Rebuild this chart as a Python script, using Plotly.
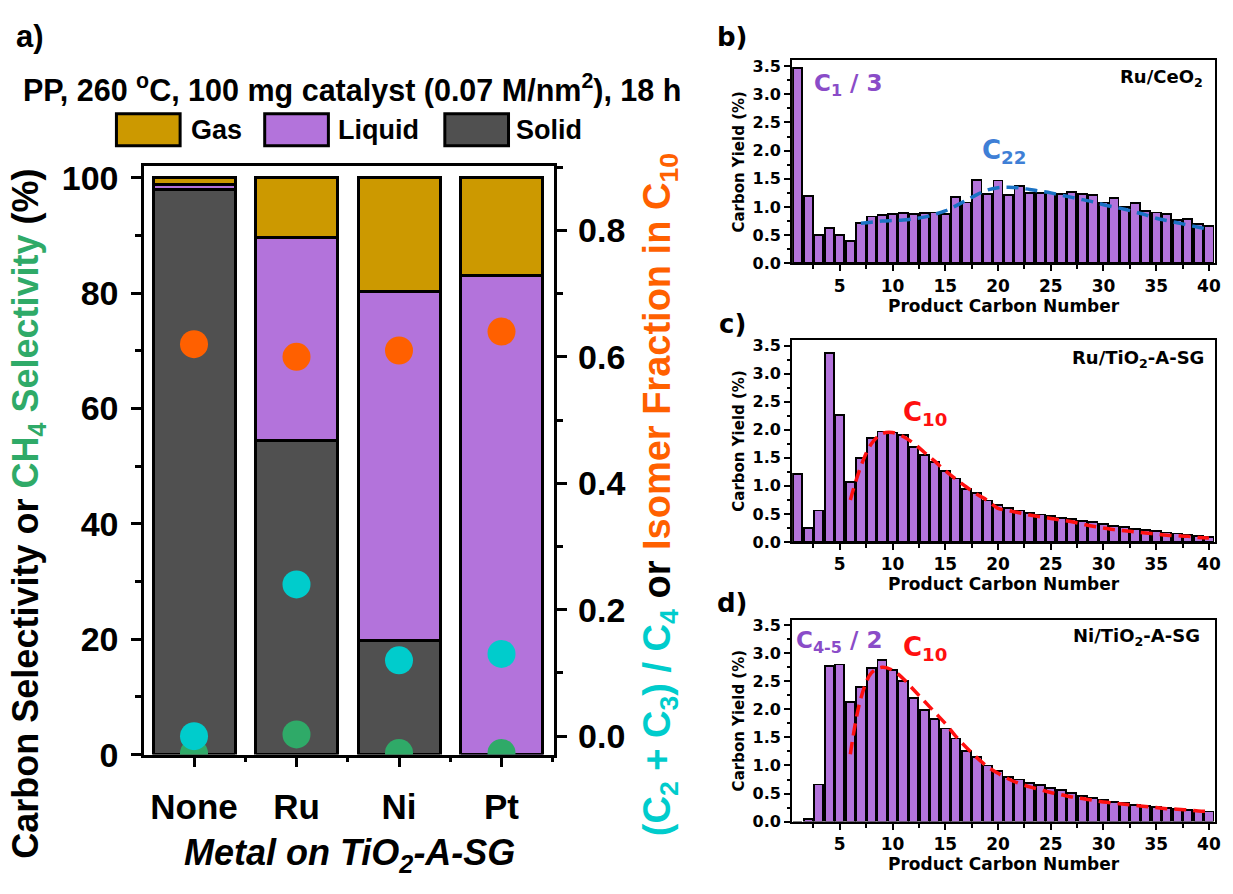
import plotly.graph_objects as go

# ---------------- data ----------------
metals = ["None", "Ru", "Ni", "Pt"]
solid = [97.9, 54.5, 19.8, 0.0]
liquid = [1.0, 35.2, 60.4, 83.0]
gas = [1.1, 10.3, 19.8, 17.0]
ch4_selectivity = [0.2, 3.5, 0.3, 0.3]
c23_over_c4 = [0.0, 0.24, 0.12, 0.13]
isomer_fraction = [0.62, 0.60, 0.61, 0.64]

carbon_number = list(range(1, 41))
ru_ceo2 = [3.47, 1.20, 0.50, 0.62, 0.50, 0.40, 0.72, 0.83, 0.86, 0.87,
           0.89, 0.87, 0.89, 0.90, 0.88, 1.17, 1.08, 1.48, 1.23, 1.47,
           1.21, 1.37, 1.25, 1.25, 1.24, 1.23, 1.26, 1.23, 1.21, 1.08,
           1.16, 1.00, 1.07, 0.93, 0.90, 0.88, 0.77, 0.79, 0.70, 0.66]
ru_tio2 = [1.21, 0.25, 0.56, 3.37, 2.27, 1.07, 1.49, 1.85, 1.97, 1.95,
           1.91, 1.70, 1.55, 1.42, 1.26, 1.13, 0.95, 0.87, 0.74, 0.66,
           0.60, 0.56, 0.52, 0.49, 0.46, 0.43, 0.41, 0.37, 0.35, 0.32,
           0.29, 0.26, 0.23, 0.21, 0.19, 0.17, 0.15, 0.13, 0.11, 0.09]
ni_tio2 = [0.00, 0.05, 0.66, 2.78, 2.80, 2.13, 2.40, 2.74, 2.88, 2.70,
           2.50, 2.20, 1.99, 1.83, 1.66, 1.48, 1.26, 1.15, 1.00, 0.90,
           0.80, 0.75, 0.69, 0.65, 0.60, 0.56, 0.51, 0.45, 0.42, 0.38,
           0.35, 0.33, 0.30, 0.28, 0.26, 0.24, 0.22, 0.21, 0.19, 0.18]

fit_b_x = list(range(7, 41))
fit_b_y = [0.71, 0.73, 0.75, 0.76, 0.77, 0.79, 0.82, 0.87, 0.93, 1.02,
           1.12, 1.22, 1.30, 1.34, 1.35, 1.34, 1.31, 1.28, 1.25, 1.21,
           1.17, 1.13, 1.09, 1.04, 1.00, 0.96, 0.91, 0.86, 0.80, 0.76,
           0.72, 0.68, 0.64, 0.60]
fit_c_x = list(range(6, 41))
fit_c_y = [0.75, 1.35, 1.75, 1.93, 1.95, 1.88, 1.76, 1.60, 1.44, 1.27,
           1.12, 0.98, 0.85, 0.74, 0.60, 0.56, 0.52, 0.48, 0.45, 0.42,
           0.39, 0.36, 0.32, 0.28, 0.25, 0.22, 0.20, 0.18, 0.16, 0.14,
           0.12, 0.11, 0.10, 0.08, 0.07]
fit_d_x = list(range(6, 41))
fit_d_y = [1.20, 2.20, 2.65, 2.75, 2.70, 2.55, 2.35, 2.15, 1.95, 1.75,
           1.52, 1.32, 1.14, 0.98, 0.86, 0.76, 0.68, 0.62, 0.57, 0.52,
           0.48, 0.44, 0.41, 0.38, 0.35, 0.33, 0.31, 0.29, 0.27, 0.25,
           0.23, 0.22, 0.21, 0.19, 0.18]

# ---------------- styles ----------------
GOLD = "#CC9900"
PURPLE = "#B373DB"
DARK = "#505050"
ORANGE = "#FF6000"
CYAN = "#00CCCC"
GREEN = "#2FAA68"
BLUE = "#1A72C4"
RED = "#FF1010"
TXT_PURPLE = "#8A4CC8"

W, H = 1233, 894
ARIAL = "Liberation Sans, Arial, sans-serif"
WIDE = "DejaVu Sans, sans-serif"

def px(x):
    return x / W

def py(y):
    return 1 - y / H

fig = go.Figure()

xpos = list(range(len(metals)))

for name, vals, col in [("Solid", solid, DARK), ("Liquid", liquid, PURPLE), ("Gas", gas, GOLD)]:
    fig.add_trace(go.Bar(x=xpos, y=vals, name=name, width=0.8,
                         marker=dict(color=col, line=dict(color="black", width=3)),
                         xaxis="x", yaxis="y", showlegend=False))

fig.add_trace(go.Scatter(x=xpos, y=ch4_selectivity, mode="markers",
                         marker=dict(color=GREEN, size=28), xaxis="x", yaxis="y",
                         showlegend=False, name="CH4 Selectivity"))
fig.add_trace(go.Scatter(x=xpos, y=isomer_fraction, mode="markers",
                         marker=dict(color=ORANGE, size=28), xaxis="x", yaxis="y2",
                         showlegend=False, name="Isomer Fraction in C10"))
fig.add_trace(go.Scatter(x=xpos, y=c23_over_c4, mode="markers",
                         marker=dict(color=CYAN, size=28), xaxis="x", yaxis="y2",
                         showlegend=False, name="(C2+C3)/C4"))

# right panels
panels = [("x3", "y3", ru_ceo2, fit_b_x, fit_b_y, BLUE),
          ("x4", "y4", ru_tio2, fit_c_x, fit_c_y, RED),
          ("x5", "y5", ni_tio2, fit_d_x, fit_d_y, RED)]
for xa, ya, vals, fx, fy, lc in panels:
    fig.add_trace(go.Bar(x=carbon_number, y=vals, width=0.86,
                         marker=dict(color=PURPLE, line=dict(color="black", width=1.8)),
                         xaxis=xa, yaxis=ya, showlegend=False))
    fig.add_trace(go.Scatter(x=fx, y=fy, mode="lines",
                             line=dict(color=lc, width=3.5, dash="12px,7px", shape="spline"),
                             xaxis=xa, yaxis=ya, showlegend=False))

main_tick = dict(family=ARIAL, size=34, color="black", weight="bold")
layout = dict(
    width=W, height=H, autosize=False,
    margin=dict(l=0, r=0, t=0, b=0),
    paper_bgcolor="white", plot_bgcolor="white",
    barmode="stack", bargap=0.2,
    font=dict(family=ARIAL, color="black"),
    xaxis=dict(domain=[px(145), px(557)], anchor="y", range=[-0.485, 3.515],
               tickvals=xpos, ticktext=metals, ticks="outside", ticklen=9, tickwidth=3,
               tickcolor="black", showline=True, linewidth=3, linecolor="black", mirror=True,
               showgrid=False, zeroline=False, ticklabelstandoff=10,
               tickfont=dict(family=ARIAL, size=35, color="black", weight="bold"),
               minor=dict(tickvals=[-0.5, 0.5, 1.5, 2.5, 3.5], ticks="outside", ticklen=4,
                          tickwidth=3, tickcolor="black")),
    yaxis=dict(domain=[py(770), py(164)], anchor="x", range=[0, 102], dtick=20,
               ticks="outside", ticklen=10, tickwidth=3, tickcolor="black",
               showline=True, linewidth=3, linecolor="black", mirror=True,
               showgrid=False, zeroline=False, tickfont=main_tick, ticklabelstandoff=6,
               minor=dict(dtick=10, ticks="outside", ticklen=6, tickwidth=3, tickcolor="black")),
    yaxis2=dict(overlaying="y", side="right", anchor="x", range=[-0.0292, 0.9015],
                dtick=0.2, tick0=0, tickformat=".1f",
                ticks="outside", ticklen=10, tickwidth=3, tickcolor="black",
                showline=True, linewidth=3, linecolor="black",
                showgrid=False, zeroline=False, tickfont=main_tick, ticklabelstandoff=4,
                minor=dict(dtick=0.1, ticks="outside", ticklen=6, tickwidth=3, tickcolor="black")),
)

doms = {"3": [py(264), py(55)], "4": [py(551), py(343)], "5": [py(839), py(631)]}
for k, dom in doms.items():
    layout["xaxis" + k] = dict(domain=[px(796), px(1221)], anchor="y" + k, range=[0.48, 40.58],
                               dtick=5, tick0=0, ticks="outside", ticklen=6, tickwidth=2,
                               tickcolor="black", showline=True, linewidth=2, linecolor="black",
                               mirror=True, showgrid=False, zeroline=False,
                               tickfont=dict(family=WIDE, size=17, color="black", weight="bold"),
                               title=dict(text="Product Carbon Number", standoff=2,
                                          font=dict(family=WIDE, size=17, color="black", weight="bold")),
                               minor=dict(dtick=2.5, ticks="outside", ticklen=4, tickwidth=2,
                                          tickcolor="black"))
    layout["yaxis" + k] = dict(domain=dom, anchor="x" + k, range=[0, 3.6], dtick=0.5,
                               tickformat=".1f", ticks="outside", ticklen=6, tickwidth=2,
                               tickcolor="black", showline=True, linewidth=2, linecolor="black",
                               mirror=True, showgrid=False, zeroline=False,
                               tickfont=dict(family=WIDE, size=16, color="black", weight="bold"),
                               title=dict(text="Carbon Yield (%)", standoff=4,
                                          font=dict(family=WIDE, size=15, color="black", weight="bold")),
                               minor=dict(dtick=0.25, ticks="outside", ticklen=3, tickwidth=2,
                                          tickcolor="black"))

fig.update_layout(**layout)

ann = []
def A(text, x, y, size, color="black", family=ARIAL, xanchor="center", angle=0,
      xref="paper", yref="paper", italic=False):
    t = "<b>" + (f"<i>{text}</i>" if italic else text) + "</b>"
    ann.append(dict(text=t, x=x, y=y, xref=xref, yref=yref, showarrow=False,
                    xanchor=xanchor, yanchor="middle", textangle=angle,
                    font=dict(family=family, size=size, color=color)))

A("PP, 260 <sup>o</sup>C, 100 mg catalyst (0.07 M/nm<sup>2</sup>), 18 h", px(354), py(84), 30.5)
A("a)", px(30), py(30), 31)
A(f"Carbon Selectivity or <span style='color:{GREEN}'>CH<sub>4</sub> Selectivity</span> (%)",
  px(28), py(522), 36, angle=-90)
A(f"<span style='color:{CYAN}'>(C<sub>2</sub> + C<sub>3</sub>) / C<sub>4</sub></span> or "
  f"<span style='color:{ORANGE}'>Isomer Fraction in C<sub>10</sub></span>",
  px(664), py(502), 38, angle=-90)
A("Metal on TiO<sub>2</sub>-A-SG", px(351), py(873), 36, italic=True)

# legend (drawn)
shapes = []
for x0, x1, col, label, tx in [(117, 181, GOLD, "Gas", 190), (266, 330, PURPLE, "Liquid", 338),
                               (447, 511, DARK, "Solid", 517)]:
    shapes.append(dict(type="rect", xref="paper", yref="paper", x0=px(x0), x1=px(x1),
                       y0=py(143), y1=py(110), fillcolor=col, line=dict(color="black", width=3)))
    A(label, px(tx), py(127), 27, xanchor="left")

# right panel labels
A("b)", px(736), py(31), 26, family=WIDE)
A("c)", px(736), py(326), 26, family=WIDE)
A("d)", px(736), py(614), 26, family=WIDE)

A("C<sub>1</sub> / 3", 5.8, 3.17, 23, color=TXT_PURPLE, family=WIDE, xref="x3", yref="y3")
A("Ru/CeO<sub>2</sub>", 39.6, 3.28, 18, family=WIDE, xanchor="right", xref="x3", yref="y3")
A("C<sub>22</sub>", 20.6, 1.98, 26, color="#3F7FD6", family=WIDE, xref="x3", yref="y3")

A("Ru/TiO<sub>2</sub>-A-SG", 39.7, 3.26, 18, family=WIDE, xanchor="right", xref="x4", yref="y4")
A("C<sub>10</sub>", 13.1, 2.29, 26, color=RED, family=WIDE, xref="x4", yref="y4")

A("C<sub>4-5</sub> / 2", 4.9, 3.2, 23, color=TXT_PURPLE, family=WIDE, xref="x5", yref="y5")
A("C<sub>10</sub>", 13.1, 3.09, 26, color=RED, family=WIDE, xref="x5", yref="y5")
A("Ni/TiO<sub>2</sub>-A-SG", 39.3, 3.29, 18, family=WIDE, xanchor="right", xref="x5", yref="y5")

fig.update_layout(annotations=ann, shapes=shapes)

fig.write_html("out.html", config={"displayModeBar": False},
               post_script="document.body.style.margin='0';")
